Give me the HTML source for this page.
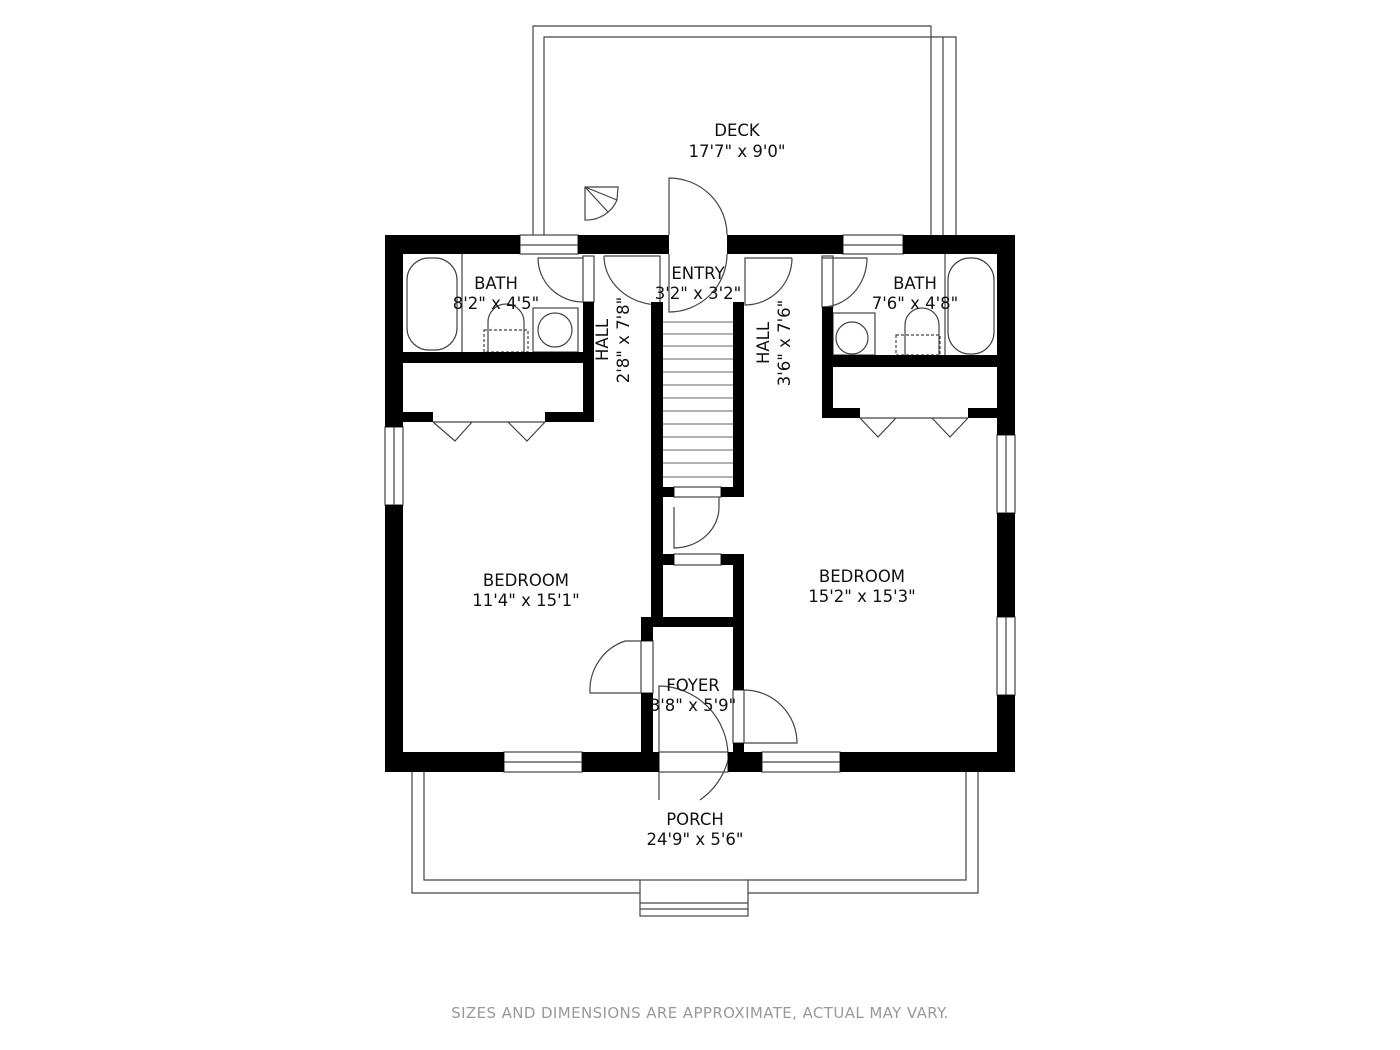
<!DOCTYPE html>
<html><head><meta charset="utf-8"><style>
html,body{margin:0;padding:0;background:#fff;width:1400px;height:1050px;overflow:hidden}
svg{display:block}
text{font-family:"DejaVu Sans","Liberation Sans",sans-serif;fill:#111;font-size:16.5px}
</style></head><body>
<svg width="1400" height="1050" viewBox="0 0 1400 1050" xmlns="http://www.w3.org/2000/svg">
<g fill="none" stroke="#444" stroke-width="1.2">
<polyline points="533,235 533,26 931,26 931,235"/>
<polyline points="544,235 544,37 956,37 956,235"/>
<line x1="943" y1="37" x2="943" y2="235"/>
<path d="M669,235 L669,178 A58,57 0 0 1 727,235"/>
<path d="M585,187 L618,187 L617,200 A33,33 0 0 1 585,220 Z M585,187 L617,200 M585,187 L608,212"/>
<polyline points="412,772 412,893 640,893"/>
<polyline points="424,772 424,880 640,880"/>
<polyline points="978,772 978,893 748,893"/>
<polyline points="966,772 966,880 748,880"/>
<rect x="640" y="880" width="108" height="36"/>
<line x1="640" y1="903" x2="748" y2="903"/><line x1="640" y1="909" x2="748" y2="909"/>
<rect x="520" y="235" width="58" height="19"/><line x1="520" y1="245" x2="578" y2="245"/>
<rect x="843" y="235" width="60" height="19"/><line x1="843" y1="245" x2="903" y2="245"/>
<rect x="504" y="752" width="78" height="20"/><line x1="504" y1="762" x2="582" y2="762"/>
<rect x="762" y="752" width="78" height="20"/><line x1="762" y1="762" x2="840" y2="762"/>
<rect x="385" y="427" width="18" height="78"/><line x1="394" y1="427" x2="394" y2="505"/>
<rect x="997" y="435" width="18" height="78"/><line x1="1006" y1="435" x2="1006" y2="513"/>
<rect x="997" y="617" width="18" height="78"/><line x1="1006" y1="617" x2="1006" y2="695"/>
<rect x="583" y="256" width="11" height="46"/>
<rect x="822" y="256" width="11" height="51"/>
<rect x="674" y="487" width="47" height="10"/>
<rect x="674" y="554" width="47" height="11"/>
<rect x="641" y="641" width="12" height="52"/>
<rect x="733" y="690" width="11" height="53"/>
<rect x="659" y="752" width="69" height="20"/>
<path d="M583,258 L538,258 A45,44 0 0 0 583,302"/>
<path d="M822,258 L867,258 A45,49 0 0 1 822,307"/>
<path d="M604,256 L660,256 L660,305 A56,49 0 0 1 604,256"/>
<path d="M792,258 L745,258 L745,305 A47,47 0 0 0 792,258"/>
<path d="M669,254 L669,312 A58,58 0 0 0 727,254"/>
<path d="M674,507 L674,548 A45,41 0 0 0 719,507 L719,497"/>
<path d="M641,641 L625,641 A51,52 0 0 0 590,693 L641,693"/>
<path d="M744,690 A53,53 0 0 1 797,743 L744,743"/>
<path d="M659,756 L659,686 A70,70 0 0 1 728,756 M659,756 L659,800 M728,760 A70,70 0 0 1 700,800"/>
<polyline points="433,422 455,441 472,422"/><polyline points="508,422 527,441 545,422"/>
<polyline points="860,418 878,437 896,418"/><polyline points="932,418 950,437 968,418"/>
<line x1="433" y1="422" x2="545" y2="422"/><line x1="860" y1="418" x2="968" y2="418"/>
<g stroke="#666" stroke-width="1">
<line x1="663" y1="322" x2="733" y2="322"/><line x1="663" y1="334" x2="733" y2="334"/>
<line x1="663" y1="346" x2="733" y2="346"/><line x1="663" y1="359" x2="733" y2="359"/>
<line x1="663" y1="372" x2="733" y2="372"/><line x1="663" y1="385" x2="733" y2="385"/>
<line x1="663" y1="398" x2="733" y2="398"/><line x1="663" y1="411" x2="733" y2="411"/>
<line x1="663" y1="424" x2="733" y2="424"/><line x1="663" y1="437" x2="733" y2="437"/>
<line x1="663" y1="450" x2="733" y2="450"/><line x1="663" y1="463" x2="733" y2="463"/>
<line x1="663" y1="477" x2="733" y2="477"/>
</g>
<rect x="407" y="258" width="50" height="92" rx="22"/>
<line x1="462" y1="254" x2="462" y2="352"/>
<path d="M488,352 L488,322 A18,18 0 0 1 524,322 L524,352"/>
<rect x="484" y="330" width="44" height="22" stroke-dasharray="3,2"/>
<rect x="533" y="308" width="45" height="44"/><ellipse cx="555" cy="330" rx="17" ry="17"/>
<rect x="948" y="258" width="46" height="96" rx="22"/>
<line x1="945" y1="254" x2="945" y2="355"/>
<path d="M905,355 L905,325 A17,17 0 0 1 939,325 L939,355"/>
<rect x="896" y="335" width="44" height="20" stroke-dasharray="3,2"/>
<rect x="833" y="313" width="42" height="42"/><ellipse cx="852" cy="338" rx="16" ry="16"/>
</g>
<g fill="#000">
<rect x="385" y="235" width="135" height="19"/>
<rect x="578" y="235" width="91" height="19"/>
<rect x="727" y="235" width="116" height="19"/>
<rect x="903" y="235" width="112" height="19"/>
<rect x="385" y="235" width="18" height="192"/>
<rect x="385" y="505" width="18" height="267"/>
<rect x="997" y="235" width="18" height="200"/>
<rect x="997" y="513" width="18" height="104"/>
<rect x="997" y="695" width="18" height="77"/>
<rect x="385" y="752" width="119" height="20"/>
<rect x="582" y="752" width="77" height="20"/>
<rect x="728" y="752" width="34" height="20"/>
<rect x="840" y="752" width="175" height="20"/>
<rect x="403" y="352" width="191" height="11"/>
<rect x="583" y="302" width="11" height="120"/>
<rect x="403" y="412" width="30" height="10"/>
<rect x="545" y="412" width="49" height="10"/>
<rect x="833" y="355" width="164" height="12"/>
<rect x="822" y="307" width="11" height="111"/>
<rect x="822" y="408" width="38" height="10"/>
<rect x="968" y="408" width="29" height="10"/>
<rect x="651" y="302" width="12" height="325"/>
<rect x="733" y="302" width="11" height="195"/>
<rect x="663" y="487" width="11" height="10"/>
<rect x="721" y="487" width="23" height="10"/>
<rect x="663" y="554" width="11" height="11"/>
<rect x="721" y="554" width="23" height="11"/>
<rect x="733" y="554" width="11" height="136"/>
<rect x="641" y="617" width="103" height="10"/>
<rect x="641" y="617" width="12" height="24"/>
<rect x="641" y="693" width="12" height="79"/>
<rect x="733" y="743" width="11" height="29"/>
</g>
<g text-anchor="middle">
<text x="737" y="136">DECK</text><text x="737" y="157">17'7" x 9'0"</text>
<text x="496" y="289">BATH</text><text x="496" y="309">8'2" x 4'5"</text>
<text x="698" y="279">ENTRY</text><text x="698" y="299">3'2" x 3'2"</text>
<text x="915" y="289">BATH</text><text x="915" y="309">7'6" x 4'8"</text>
<text x="526" y="586">BEDROOM</text><text x="526" y="606">11'4" x 15'1"</text>
<text x="862" y="582">BEDROOM</text><text x="862" y="602">15'2" x 15'3"</text>
<text x="693" y="691">FOYER</text><text x="693" y="711">3'8" x 5'9"</text>
<text x="695" y="825">PORCH</text><text x="695" y="845">24'9" x 5'6"</text>
<text transform="translate(608,340) rotate(-90)">HALL</text>
<text transform="translate(629,340) rotate(-90)">2'8" x 7'8"</text>
<text transform="translate(769,343) rotate(-90)">HALL</text>
<text transform="translate(790,343) rotate(-90)">3'6" x 7'6"</text>
<text x="700" y="1018" style="fill:#999;font-size:15px;letter-spacing:0.4px">SIZES AND DIMENSIONS ARE APPROXIMATE, ACTUAL MAY VARY.</text>
</g>
</svg>
</body></html>
